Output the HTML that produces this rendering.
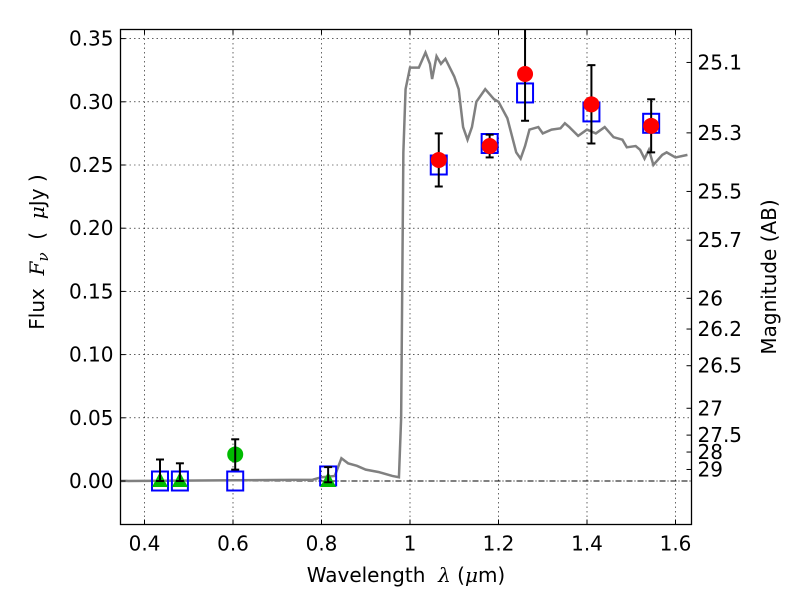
<!DOCTYPE html>
<html><head><meta charset="utf-8"><style>
body{margin:0;background:#fff;}
svg text{font-family:"DejaVu Sans","Liberation Sans",sans-serif;font-size:20px;fill:#000;}
</style></head><body>
<svg id="chart" width="800" height="600" viewBox="0 0 800 600" xmlns="http://www.w3.org/2000/svg">
<rect width="800" height="600" fill="#fff"/>
<g id="grid"></g>
<g id="series"></g>
<rect x="120.5" y="29.5" width="571" height="495" fill="none" stroke="#000" stroke-width="1.3"/>
<g id="axes"></g>
<text x="44" y="252" text-anchor="middle" transform="rotate(-90 44 252)">Flux&#160;&#160;<tspan font-style="italic" font-family="DejaVu Serif">F<tspan font-size="15" dy="4">ν</tspan></tspan><tspan dy="-4">&#160;&#160;(&#160;&#160;</tspan><tspan font-style="italic" font-family="DejaVu Serif">μ</tspan>Jy&#160;)</text>
<text x="406" y="582" text-anchor="middle">Wavelength&#160;&#160;<tspan font-style="italic" font-family="DejaVu Serif">λ</tspan>&#160;(<tspan font-style="italic" font-family="DejaVu Serif">μ</tspan>m)</text>
<text x="776" y="277" text-anchor="middle" transform="rotate(-90 776 277)">Magnitude (AB)</text>
</svg>
<script>
const xTicks=[0.4,0.6,0.8,1.0,1.2,1.4,1.6];
const xTickLabels=["0.4","0.6","0.8","1","1.2","1.4","1.6"];
const yTicks=[0,0.05,0.10,0.15,0.20,0.25,0.30,0.35];
const yTickLabels=["0.00","0.05","0.10","0.15","0.20","0.25","0.30","0.35"];
const magTicks=[25.1,25.3,25.5,25.7,26,26.2,26.5,27,27.5,28,29];
const magLabels=["25.1","25.3","25.5","25.7","26","26.2","26.5","27","27.5","28","29"];
const specX=[0.34,0.78,0.8,0.83,0.845,0.86,0.88,0.9,0.93,0.96,0.975,0.98,0.985,0.99,1.0,1.02,1.035,1.045,1.05,1.06,1.07,1.08,1.1,1.11,1.12,1.13,1.14,1.15,1.17,1.19,1.2,1.22,1.24,1.25,1.26,1.27,1.29,1.3,1.32,1.34,1.35,1.36,1.38,1.4,1.42,1.44,1.46,1.48,1.49,1.51,1.52,1.53,1.54,1.55,1.57,1.58,1.6,1.627];
const specY=[0,0.001,0.003,0.004,0.018,0.014,0.012,0.009,0.007,0.004,0.003,0.05,0.26,0.31,0.327,0.327,0.339,0.33,0.318,0.336,0.33,0.334,0.32,0.31,0.28,0.27,0.28,0.3,0.31,0.302,0.3,0.287,0.26,0.255,0.265,0.278,0.28,0.275,0.278,0.279,0.283,0.28,0.273,0.278,0.275,0.28,0.272,0.27,0.264,0.265,0.262,0.255,0.262,0.25,0.258,0.26,0.256,0.258];
const obsX=[1.065,1.18,1.26,1.41,1.545];
const obsY=[0.254,0.265,0.322,0.298,0.281];
const obsErr=[0.021,0.009,0.037,0.031,0.021];
const sqX=[0.435,0.48,0.605,0.815,1.065,1.18,1.26,1.41,1.545];
const sqY=[0,0,0,0.004,0.25,0.267,0.307,0.292,0.283];
const gcX=[0.605];const gcY=[0.021];const gcErr=[0.012];
const triX=[0.435,0.48,0.815];const triY=[0,0,0];const triErrTop=[0.017,0.014,0.011];const triErrBot=[0,0,0.001];
const NS="http://www.w3.org/2000/svg";
const L=120.5,R=691.5,T=29.5,B=524.5;
const sx=v=>410+(v-1.0)*442.5;
const sy=v=>481-v*1264;
const magToY=m=>sy(Math.pow(10,(23.9-m)/2.5));
function mk(tag,attrs,parent){const e=document.createElementNS(NS,tag);for(const k in attrs)e.setAttribute(k,attrs[k]);parent.appendChild(e);return e;}
const grid=document.getElementById('grid'),axes=document.getElementById('axes'),ser=document.getElementById('series');
xTicks.forEach((v,i)=>{const x=sx(v);
 const g=mk('line',{x1:x,x2:x,y1:T,y2:B,stroke:'#000','stroke-width':0.6,'stroke-dasharray':'1.5,3'},grid);
 
 mk('line',{x1:x,x2:x,y1:B,y2:B-5,stroke:'#000'},axes);mk('line',{x1:x,x2:x,y1:T,y2:T+5,stroke:'#000'},axes);
 const t=mk('text',{x:x,y:B+26,'text-anchor':'middle'},axes);t.textContent=xTickLabels[i];
 });
yTicks.forEach((v,i)=>{const y=sy(v);
 if(v!==0){const g=mk('line',{x1:L,x2:R,y1:y,y2:y,stroke:'#000','stroke-width':0.6,'stroke-dasharray':'1.5,3'},grid);
 }
 mk('line',{x1:L,x2:L+5,y1:y,y2:y,stroke:'#000'},axes);
 const t=mk('text',{x:L-7,y:y+7,'text-anchor':'end'},axes);t.textContent=yTickLabels[i];
 });
const z=mk('line',{x1:L,x2:R,y1:sy(0),y2:sy(0),stroke:'#000','stroke-width':0.9,'stroke-dasharray':'6,2,1,2'},grid);

magTicks.forEach((m,i)=>{const y=magToY(m);
 mk('line',{x1:R,x2:R-5,y1:y,y2:y,stroke:'#000'},axes);
 const t=mk('text',{x:R+6,y:y+7},axes);t.textContent=magLabels[i];
 });
const clip=mk('clipPath',{id:'pc'},document.getElementById('chart'));mk('rect',{x:L,y:T,width:R-L,height:B-T},clip);
ser.setAttribute('clip-path','url(#pc)');
const sp=mk('polyline',{points:specX.map((v,i)=>sx(v)+','+sy(specY[i])).join(' '),fill:'none',stroke:'#808080','stroke-width':2.5},ser);

function err(x,y1,y2){const g=mk('g',{stroke:'#000','stroke-width':2},ser);
 mk('line',{x1:x,x2:x,y1:y1,y2:y2},g);mk('line',{x1:x-4,x2:x+4,y1:y1,y2:y1},g);mk('line',{x1:x-4,x2:x+4,y1:y2,y2:y2},g);
 }
sqX.forEach((v,i)=>{const r=mk('rect',{x:sx(v)-8,y:sy(sqY[i])-9.5,width:16,height:19,fill:'none',stroke:'#0000ff','stroke-width':2},ser);
 });
triX.forEach((v,i)=>{const x=sx(v),y=sy(triY[i]);
 const p=mk('polygon',{points:`${x},${y-9} ${x-8},${y+6} ${x+8},${y+6}`,fill:'#00bb00'},ser);
 
 err(x,sy(triY[i]+triErrTop[i]),sy(triY[i]-triErrBot[i]));});
gcX.forEach((v,i)=>{const c=mk('ellipse',{cx:sx(v),cy:sy(gcY[i]),rx:8,ry:8,fill:'#00bb00'},ser);
 
 err(sx(v),sy(gcY[i]+gcErr[i]),sy(gcY[i]-gcErr[i]));});
obsX.forEach((v,i)=>{err(sx(v),sy(obsY[i]+obsErr[i]),sy(obsY[i]-obsErr[i]));
 const c=mk('ellipse',{cx:sx(v),cy:sy(obsY[i]),rx:8,ry:8,fill:'#ff0000'},ser);
 });
</script>
</body></html>
